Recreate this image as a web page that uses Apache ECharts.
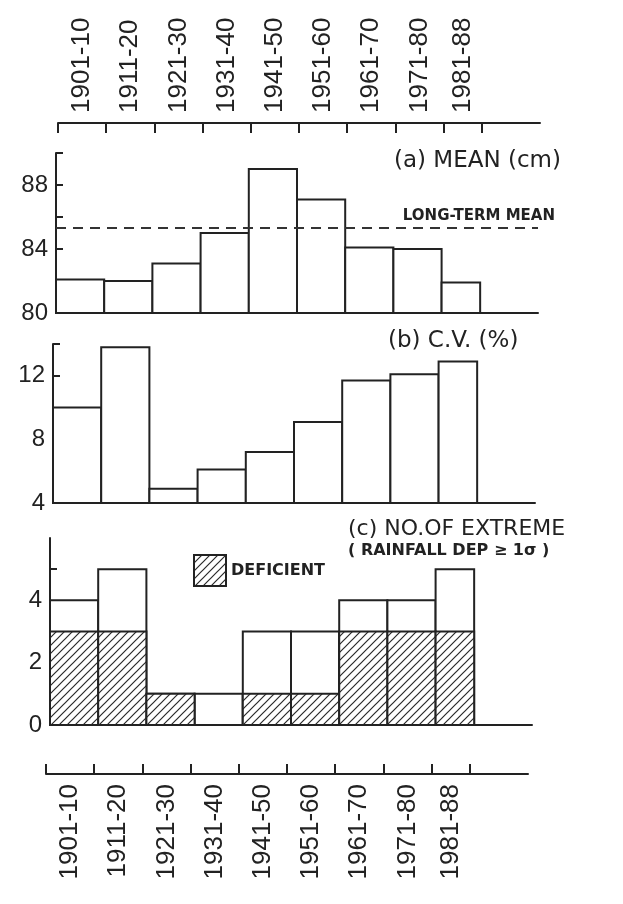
<!DOCTYPE html>
<html>
<head>
<meta charset="utf-8">
<script src="https://cdn.jsdelivr.net/npm/echarts@6/dist/echarts.min.js"></script>
<style>
html,body{margin:0;padding:0;background:#ffffff;}
#chart{width:623px;height:904px;}
</style>
</head>
<body>
<div id="chart"></div>
<script>
// ---------------- data ----------------
const periods = ['1901-10','1911-20','1921-30','1931-40','1941-50','1951-60','1961-70','1971-80','1981-88'];
const periodStartYear = [1901,1911,1921,1931,1941,1951,1961,1971,1981];
const periodYears = [10,10,10,10,10,10,10,10,8];
const meanRainfall = [82.1,82.0,83.1,85.0,89.0,87.1,84.1,84.0,81.9];
const longTermMean = 85.3;
const cvPercent = [10.0,13.8,4.9,6.1,7.2,9.1,11.7,12.1,12.9];
const extremeTotal = [4,5,1,1,3,3,4,4,5];
const extremeDeficient = [3,3,1,0,1,1,3,3,3];
const meanTicks = [80,82,84,86,88,90];
const meanTickLabels = [80,84,88];
const cvTicks = [4,6,8,10,12,14];
const cvTickLabels = [4,8,12];
const extremeTicks = [1,2,3,4,5];
const extremeTickLabels = [0,2,4];

// ---------------- derived ----------------
const periodEnd = periodStartYear.map((s,i)=>s+periodYears[i]);
const periodMid = periodStartYear.map((s,i)=>s+periodYears[i]/2);
const boundaryTicks = periodStartYear.concat([periodEnd[periodEnd.length-1]]);

const INK = '#222';
const hatchCanvas = document.createElement('canvas');
hatchCanvas.width = 8; hatchCanvas.height = 8;
(function(){
  const g = hatchCanvas.getContext('2d');
  g.fillStyle = '#ffffff'; g.fillRect(0,0,8,8);
  g.strokeStyle = '#2a2a2a'; g.lineWidth = 1.2;
  g.beginPath();
  g.moveTo(0,8); g.lineTo(8,0);
  g.moveTo(-3,3); g.lineTo(3,-3);
  g.moveTo(5,11); g.lineTo(11,5);
  g.stroke();
})();
const hatch = {image: hatchCanvas, repeat: 'repeat'};

const chart = echarts.init(document.getElementById('chart'), null, {renderer:'canvas'});

const axisLineStyle = {color: INK, width: 2};
function panelX(gi){
  return {type:'value', gridIndex:gi, min:1901, max:2001,
    axisLine:{show:true, onZero:false, lineStyle:axisLineStyle},
    axisTick:{show:false}, axisLabel:{show:false}, splitLine:{show:false}};
}
function panelY(gi,min,max,ticks,labels){
  return {type:'value', gridIndex:gi, min:min, max:max,
    axisLine:{show:true, onZero:false, lineStyle:axisLineStyle},
    axisTick:{show:true, inside:true, length:7, customValues:ticks, lineStyle:axisLineStyle},
    axisLabel:{show:true, customValues:labels, fontSize:24, color:INK, fontFamily:'Liberation Sans', margin:8},
    splitLine:{show:false}};
}
function periodAxis(gi,pos,rot){
  return {type:'value', gridIndex:gi, position:pos, min:1901, max:2001,
    axisLine:{show:true, onZero:false, lineStyle:axisLineStyle},
    axisTick:{show:true, inside:true, length:10, customValues:boundaryTicks, lineStyle:axisLineStyle},
    axisLabel:{show:true, customValues:periodMid, rotate:rot, margin:10, fontSize:26, color:INK,
      fontFamily:'Liberation Sans',
      formatter:function(v){ const i = periodMid.indexOf(v); return i>=0 ? periods[i] : ''; }},
    splitLine:{show:false}};
}
function hiddenY(gi){ return {type:'value', gridIndex:gi, show:false, min:0, max:1, splitLine:{show:false}}; }

function barSeries(name, gi, values, base, fill, extra){
  const s = {type:'custom', name:name, xAxisIndex:gi, yAxisIndex:gi,
    data: values.map((v,i)=>[periodStartYear[i], periodEnd[i], v]),
    encode:{x:[0,1], y:2},
    itemStyle:{color: fill, borderColor: INK, borderWidth: 2},
    renderItem:function(params, api){
      const v = api.value(2);
      if (v <= base) return null;
      const tl = api.coord([api.value(0), v]);
      const br = api.coord([api.value(1), base]);
      return {type:'rect', shape:{x:tl[0], y:tl[1], width:br[0]-tl[0], height:br[1]-tl[1]},
        style:{fill:fill, stroke:INK, lineWidth:2}};
    }};
  return Object.assign(s, extra||{});
}

const titleFont = {fontFamily:'DejaVu Sans', fontSize:23, fontWeight:'normal', color:INK};

chart.setOption({
  animation:false,
  backgroundColor:'#ffffff',
  grid:[
    {left:58, top:123, width:482, height:1, outerBoundsMode:'none'},
    {left:56, top:153, width:482, height:160, outerBoundsMode:'none'},
    {left:53, top:344, width:482, height:159, outerBoundsMode:'none'},
    {left:50, top:538, width:482, height:187, outerBoundsMode:'none'},
    {left:46, top:773, width:482, height:1, outerBoundsMode:'none'}
  ],
  xAxis:[ periodAxis(0,'top',-90), panelX(1), panelX(2), panelX(3), periodAxis(4,'bottom',90) ],
  yAxis:[ hiddenY(0),
    panelY(1,80,90,meanTicks,meanTickLabels),
    panelY(2,4,14,cvTicks,cvTickLabels),
    panelY(3,0,6,extremeTicks,extremeTickLabels),
    hiddenY(4) ],
  title:[
    {text:'(a) MEAN (cm)', left:394, top:150, padding:0, textStyle:titleFont},
    {text:'(b) C.V. (%)', left:388, top:330, padding:0, textStyle:titleFont},
    {text:'(c) NO.OF EXTREME', subtext:'( RAINFALL DEP \u2265 1\u03c3 )', left:348, top:518, padding:0, itemGap:3,
      textStyle:{fontFamily:'DejaVu Sans', fontSize:22, fontWeight:'normal', color:INK},
      subtextStyle:{fontFamily:'DejaVu Sans', fontSize:16, fontWeight:'bold', color:INK}}
  ],
  legend:{
    left:193, top:554, itemWidth:32, itemHeight:31, selectedMode:false, padding:0,
    data:[{name:'DEFICIENT', icon:'rect', itemStyle:{color:hatch, borderColor:INK, borderWidth:2}}],
    textStyle:{fontFamily:'DejaVu Sans', fontSize:16, fontWeight:'bold', color:INK}
  },
  series:[
    barSeries('Mean', 1, meanRainfall, 80, '#ffffff', {
      markLine:{silent:true, symbol:['none','none'],
        lineStyle:{type:[10,7], color:'#333', width:2},
        label:{show:true, position:'insideEndTop', formatter:'LONG-TERM MEAN', distance:[-17,5],
          fontFamily:'DejaVu Sans', fontSize:15, fontWeight:'bold', color:INK},
        data:[{yAxis:longTermMean}]}
    }),
    barSeries('C.V.', 2, cvPercent, 4, '#ffffff'),
    barSeries('Extreme', 3, extremeTotal, 0, '#ffffff'),
    barSeries('DEFICIENT', 3, extremeDeficient, 0, hatch)
  ]
});
</script>
</body>
</html>
